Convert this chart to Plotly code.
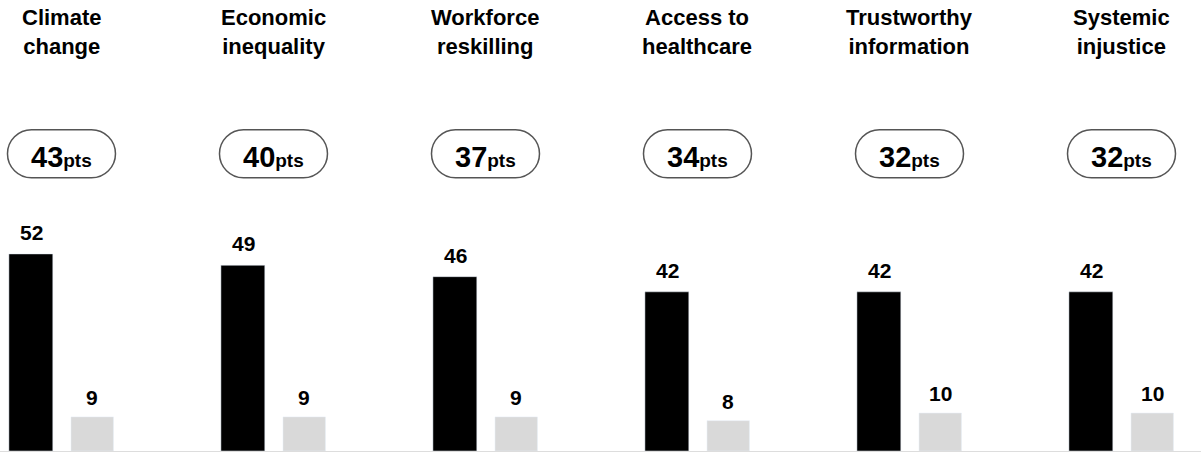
# Top issues - gap chart (pts)

import plotly.graph_objects as go

categorias = ['Climate<br>change', 'Economic<br>inequality', 'Workforce<br>reskilling',
              'Access to<br>healthcare', 'Trustworthy<br>information', 'Systemic<br>injustice']
gap_pts = [43, 40, 37, 34, 32, 32]
serie_alta = [52, 49, 46, 42, 42, 42]
serie_baixa = [9, 9, 9, 8, 10, 10]

xs = list(range(len(categorias)))

fig = go.Figure()

fig.add_trace(go.Bar(x=xs, y=serie_alta, marker_color='#000000',
                     width=0.207, offset=-0.248, hoverinfo='skip'))
fig.add_trace(go.Bar(x=xs, y=serie_baixa, marker_color='#d9d9d9',
                     width=0.2, offset=0.045, hoverinfo='skip'))

# pilula (semicirculos com bezier, plotly nao aceita arco)
pilula = ('M -30,-24 L 30,-24 C 43.25,-24 54,-13.25 54,0 C 54,13.25 43.25,24 30,24 '
          'L -30,24 C -43.25,24 -54,13.25 -54,0 C -54,-13.25 -43.25,-24 -30,-24 Z')

for i, cat in enumerate(categorias):
    # titulo
    fig.add_annotation(x=i, y=1, xref='x', yref='paper', yanchor='top',
                       text='<b>' + cat + '</b>', showarrow=False,
                       font=dict(size=22, color='#000000'), align='center',
                       yshift=-3)
    # pts
    fig.add_shape(type='path', xref='x', yref='paper',
                  xsizemode='pixel', ysizemode='pixel',
                  xanchor=i, yanchor=0.659, path=pilula,
                  line=dict(color='#555555', width=1.5), fillcolor='rgba(0,0,0,0)')
    fig.add_annotation(x=i, y=0.659, xref='x', yref='paper',
                       text='<b>' + str(gap_pts[i]) + '</b><b><span style="font-size:19px">pts</span></b>',
                       showarrow=False, font=dict(size=29, color='#000000'), yshift=-3)
    # valores das barras
    fig.add_annotation(x=i, y=serie_alta[i], xref='x', yref='y', yanchor='bottom',
                       text='<b>%d</b>' % serie_alta[i], showarrow=False,
                       font=dict(size=21, color='#000000'), xshift=-30, yshift=8)
    fig.add_annotation(x=i, y=serie_baixa[i], xref='x', yref='y', yanchor='bottom',
                       text='<b>%d</b>' % serie_baixa[i], showarrow=False,
                       font=dict(size=21, color='#000000'), xshift=31, yshift=6)

fig.update_layout(
    width=1201, height=452,
    margin=dict(l=0, r=0, t=0, b=1),
    plot_bgcolor='white', paper_bgcolor='white',
    showlegend=False, hovermode=False,
    font=dict(family='Liberation Sans, Arial, sans-serif', color='#000000'),
    xaxis=dict(range=[-0.29, 5.375], showgrid=False, zeroline=False,
               showticklabels=False, showline=True, linecolor='#dddddd', linewidth=1),
    yaxis=dict(range=[0, 119], showgrid=False, zeroline=False, showticklabels=False),
)

fig.write_html("out.html", config={'displayModeBar': False},
               post_script="document.body.style.margin='0';")
